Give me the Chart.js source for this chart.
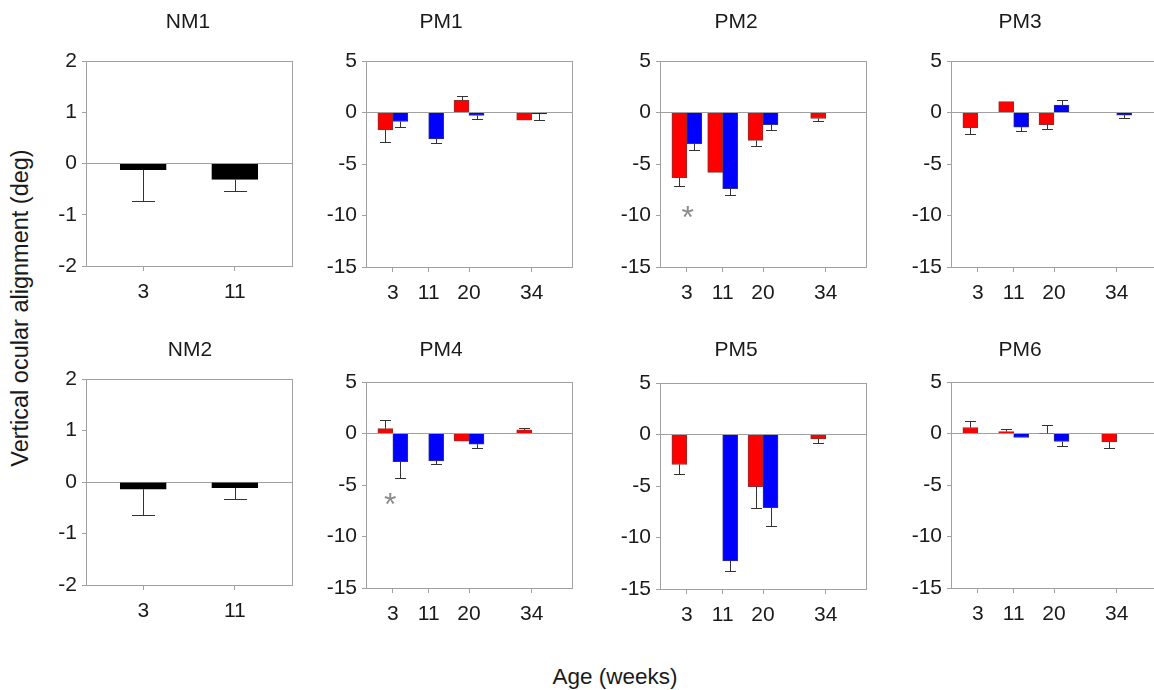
<!DOCTYPE html>
<html>
<head>
<meta charset="utf-8"/>
<title>Vertical ocular alignment by age</title>
<script src="https://cdn.jsdelivr.net/npm/chart.js@4.4.0/dist/chart.umd.min.js"></script>
<style>
body { margin: 0; background: #fff; }
#page { position: relative; width: 1154px; height: 690px; overflow: hidden;
        font-family: "Liberation Sans", Arial, sans-serif; color: #1a1a1a; }
#page canvas { position: absolute; }
.axisTitle { position: absolute; white-space: nowrap; text-align: center; line-height: 26px; }
#ytitle { left: -180px; top: 295px; width: 400px; height: 26px; font-size: 23.5px; transform: rotate(-90deg); }
#xtitle { left: 515px; top: 664px; width: 200px; height: 26px; font-size: 22.5px; }
</style>
</head>
<body>
<div id="page">
  <div class="axisTitle" id="ytitle">Vertical ocular alignment (deg)</div>
  <div class="axisTitle" id="xtitle">Age (weeks)</div>
</div>
<script>
// ages (weeks)
var nmAges = [3, 11];
var pmAges = [3, 11, 20, 34];

// normal animals: mean and SE per age
var nm1Mean = [-0.12, -0.31];
var nm1Err  = [0.62, 0.22];
var nm2Mean = [-0.14, -0.11];
var nm2Err  = [0.51, 0.22];

// PM animals: red / blue series, null = no measurement
var pm1Red     = [-1.68, null, 1.17, -0.74];
var pm1RedErr  = [1.20, null, 0.48, 0];
var pm1Blue    = [-0.87, -2.56, -0.29, -0.13];
var pm1BlueErr = [0.55, 0.38, 0.32, 0.58];

var pm2Red     = [-6.32, -5.81, -2.71, -0.58];
var pm2RedErr  = [0.84, 0, 0.58, 0.29];
var pm2Blue    = [-3.03, -7.39, -1.19, null];
var pm2BlueErr = [0.58, 0.58, 0.55, null];

var pm3Red     = [-1.48, 1.06, -1.19, null];
var pm3RedErr  = [0.65, 0, 0.46, null];
var pm3Blue    = [null, -1.42, 0.71, -0.26];
var pm3BlueErr = [null, 0.35, 0.48, 0.26];

var pm4Red     = [0.48, null, -0.74, 0.35];
var pm4RedErr  = [0.84, null, 0, 0.17];
var pm4Blue    = [-2.74, -2.65, -1.03, null];
var pm4BlueErr = [1.55, 0.35, 0.42, null];

var pm5Red     = [-2.91, null, -5.07, -0.42];
var pm5RedErr  = [0.97, null, 2.10, 0.39];
var pm5Blue    = [null, -12.28, -7.11, null];
var pm5BlueErr = [null, 0.97, 1.81, null];

var pm6Red     = [0.58, 0.19, 0.02, -0.81];
var pm6RedErr  = [0.65, 0.20, 0.82, 0.58];
var pm6Blue    = [null, -0.39, -0.78, null];
var pm6BlueErr = [null, 0, 0.48, null];

// significance markers (age, value)
var pm2Stars = [{x: 3.2, y: -9.65}];
var pm4Stars = [{x: 2.4, y: -6.4}];

var FONT = '"Liberation Sans", Arial, sans-serif';
var FRAME = '#a0a0a0';
var TEXT = '#1a1a1a';
var RED = '#ff0000', BLUE = '#0000ff';

function nm(name, mean, err, box) {
  return { name: name, ages: nmAges, ymin: -2, ymax: 2, step: 1, xmin: -2, xmax: 16,
           bar: 46, cap: 23, stars: [], box: box,
           series: [{ v: mean, e: err, color: '#000000', border: '#000000' }] };
}
function pm(name, red, redErr, blue, blueErr, stars, box) {
  return { name: name, ages: pmAges, ymin: -15, ymax: 5, step: 5, xmin: -3, xmax: 43,
           bar: 15, cap: 11, stars: stars, box: box,
           series: [{ v: red, e: redErr, color: RED, border: '#8a3030' },
                    { v: blue, e: blueErr, color: BLUE, border: '#30308a' }] };
}

// box: [plot left, plot right, plot top, plot bottom, title x, title y]
var panels = [
  nm('NM1', nm1Mean, nm1Err, [86, 292, 61, 266, 188, 22]),
  pm('PM1', pm1Red, pm1RedErr, pm1Blue, pm1BlueErr, [], [366, 572, 61, 267, 441, 22]),
  pm('PM2', pm2Red, pm2RedErr, pm2Blue, pm2BlueErr, pm2Stars, [660, 866, 61, 267, 736, 22]),
  pm('PM3', pm3Red, pm3RedErr, pm3Blue, pm3BlueErr, [], [951, 1157, 61, 267, 1020, 22]),
  nm('NM2', nm2Mean, nm2Err, [86, 292, 379, 585, 190, 350]),
  pm('PM4', pm4Red, pm4RedErr, pm4Blue, pm4BlueErr, pm4Stars, [366, 572, 382, 588, 441, 350]),
  pm('PM5', pm5Red, pm5RedErr, pm5Blue, pm5BlueErr, [], [660, 866, 383, 589, 736, 350]),
  pm('PM6', pm6Red, pm6RedErr, pm6Blue, pm6BlueErr, [], [951, 1157, 382, 588, 1020, 350])
];

// one-sided error bars, pointing away from zero
var errorBars = {
  id: 'errorBars',
  afterDatasetsDraw: function (chart, args, opts) {
    var ctx = chart.ctx, ys = chart.scales.y, cap = opts.cap;
    ctx.save();
    ctx.strokeStyle = '#333';
    ctx.lineWidth = 1;
    chart.data.datasets.forEach(function (ds, di) {
      var meta = chart.getDatasetMeta(di);
      meta.data.forEach(function (bar, i) {
        var v = ds.data[i].y, e = ds.err[i];
        if (v == null || !e) return;
        var dir = v < 0 ? -1 : 1;
        var x = Math.round(bar.x) + 0.5;
        var y0 = ys.getPixelForValue(v);
        var y1 = Math.round(ys.getPixelForValue(v + dir * e)) + 0.5;
        ctx.beginPath();
        ctx.moveTo(x, y0);
        ctx.lineTo(x, y1);
        ctx.moveTo(x - cap / 2, y1);
        ctx.lineTo(x + cap / 2, y1);
        ctx.stroke();
      });
    });
    ctx.restore();
  }
};

var starMarks = {
  id: 'starMarks',
  afterDatasetsDraw: function (chart, args, opts) {
    var ctx = chart.ctx;
    ctx.save();
    ctx.fillStyle = '#8c8c8c';
    ctx.font = '32px ' + FONT;
    ctx.textAlign = 'center';
    ctx.textBaseline = 'alphabetic';
    opts.points.forEach(function (p) {
      var x = chart.scales.x.getPixelForValue(p.x);
      var y = chart.scales.y.getPixelForValue(p.y);
      ctx.fillText('*', x, y + 16);
    });
    ctx.restore();
  }
};

var page = document.getElementById('page');
var axisW = 70, axisH = 46, padTop = 4;

panels.forEach(function (p) {
  var g = p.box;
  var cl = g[0] - axisW;
  var cw = Math.round(2 * (g[4] - cl));
  var rightGap = Math.max(0, cw - (g[1] - cl));
  var ct = g[5] - 12 - padTop;
  var titleBottom = g[2] - g[5] - 12;
  var ch = g[3] - ct + axisH;

  var c = document.createElement('canvas');
  c.width = cw;
  c.height = ch;
  c.style.left = cl + 'px';
  c.style.top = ct + 'px';
  page.appendChild(c);

  var tickFont = { family: FONT, size: 21 };

  new Chart(c, {
    type: 'bar',
    data: {
      datasets: p.series.map(function (s) {
        return {
          data: p.ages.map(function (a, i) { return { x: a, y: s.v[i] }; }),
          err: s.e,
          backgroundColor: s.color,
          borderColor: s.border,
          borderWidth: 1,
          barThickness: p.bar
        };
      })
    },
    options: {
      responsive: false,
      animation: false,
      devicePixelRatio: 1,
      events: [],
      layout: { padding: 0 },
      plugins: {
        legend: { display: false },
        tooltip: { enabled: false },
        title: {
          display: true, text: p.name, color: TEXT,
          font: { family: FONT, size: 21, weight: 'normal', lineHeight: 24 / 21 },
          padding: { top: padTop, bottom: titleBottom }
        },
        errorBars: { cap: p.cap },
        starMarks: { points: p.stars }
      },
      scales: {
        x: {
          type: 'linear', min: p.xmin, max: p.xmax, offset: false,
          afterBuildTicks: function (s) { s.ticks = p.ages.map(function (v) { return { value: v }; }); },
          afterFit: function (s) { s.height = axisH; },
          grid: { offset: false, drawOnChartArea: false, color: FRAME, tickLength: 5 },
          border: { color: FRAME },
          ticks: { padding: 9, color: TEXT, font: tickFont, maxRotation: 0 }
        },
        y: {
          min: p.ymin, max: p.ymax,
          afterFit: function (s) { s.width = axisW; },
          grid: {
            color: function (ctx) { return ctx.tick && ctx.tick.value === 0 ? FRAME : 'transparent'; },
            tickColor: FRAME, tickLength: 4
          },
          border: { color: FRAME },
          ticks: { stepSize: p.step, padding: 5, color: TEXT, font: tickFont }
        },
        x2: {
          type: 'linear', position: 'top', min: p.xmin, max: p.xmax, offset: false,
          afterFit: function (s) { s.height = 0; },
          grid: { display: false, drawTicks: false },
          ticks: { display: false },
          border: { color: FRAME }
        },
        y2: {
          type: 'linear', position: 'right', min: p.ymin, max: p.ymax,
          afterFit: function (s) { s.width = rightGap; },
          grid: { display: false, drawTicks: false },
          ticks: { display: false },
          border: { color: FRAME }
        }
      }
    },
    plugins: [errorBars, starMarks]
  });
});
</script>
</body>
</html>
